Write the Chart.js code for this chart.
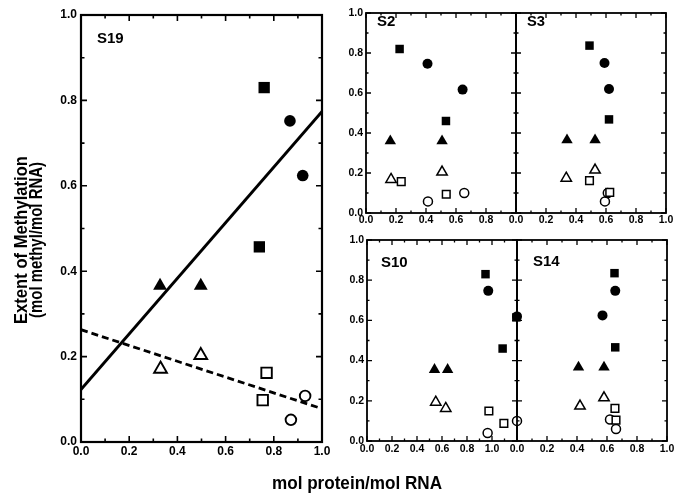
<!DOCTYPE html>
<html>
<head>
<meta charset="utf-8">
<script src="https://cdn.jsdelivr.net/npm/chart.js@4.4.0/dist/chart.umd.min.js"></script>
<style>
  html, body { margin: 0; padding: 0; background: #fff; width: 675px; height: 496px; overflow: hidden; }
  canvas { position: absolute; left: 0; top: 0; }
</style>
</head>
<body>
<canvas id="s19" width="720" height="520"></canvas>
<canvas id="s2" width="720" height="520"></canvas>
<canvas id="s3" width="720" height="520"></canvas>
<canvas id="s10" width="720" height="520"></canvas>
<canvas id="s14" width="720" height="520"></canvas>
<script>
// Five methylation panels. Each point is [mol protein/mol RNA, extent].
// S19
const s19FilledSquares   = [[0.76, 0.83], [0.74, 0.457]];
const s19FilledCircles   = [[0.867, 0.752], [0.92, 0.624]];
const s19FilledTriangles = [[0.328, 0.366], [0.497, 0.366]];
const s19OpenTriangles   = [[0.33, 0.171], [0.497, 0.203]];
const s19OpenSquares     = [[0.77, 0.162], [0.754, 0.098]];
const s19OpenCircles     = [[0.871, 0.052], [0.93, 0.108]];
const s19FitSolid        = [[0, 0.123], [1, 0.774]];
const s19FitDashed       = [[0, 0.263], [1, 0.078]];
// S2
const s2FilledSquares   = [[0.224, 0.82], [0.533, 0.46]];
const s2FilledCircles   = [[0.41, 0.746], [0.644, 0.617]];
const s2FilledTriangles = [[0.162, 0.36], [0.507, 0.36]];
const s2OpenTriangles   = [[0.167, 0.168], [0.507, 0.205]];
const s2OpenSquares     = [[0.235, 0.157], [0.535, 0.094]];
const s2OpenCircles     = [[0.413, 0.058], [0.655, 0.1]];
// S3
const s3FilledSquares   = [[0.49, 0.837], [0.62, 0.468]];
const s3FilledCircles   = [[0.59, 0.75], [0.62, 0.62]];
const s3FilledTriangles = [[0.34, 0.365], [0.527, 0.365]];
const s3OpenTriangles   = [[0.335, 0.174], [0.527, 0.215]];
const s3OpenSquares     = [[0.49, 0.162], [0.625, 0.103]];
const s3OpenCircles     = [[0.593, 0.058], [0.612, 0.1]];
// S10 (its x axis runs to 1.2)
const s10FilledSquares   = [[0.948, 0.83], [1.085, 0.46], [1.195, 0.615]];
const s10FilledCircles   = [[0.97, 0.747], [1.2, 0.62]];
const s10FilledTriangles = [[0.54, 0.355], [0.645, 0.355]];
const s10OpenTriangles   = [[0.55, 0.193], [0.63, 0.162]];
const s10OpenSquares     = [[0.975, 0.149], [1.095, 0.088]];
const s10OpenCircles     = [[0.965, 0.04], [1.2, 0.1]];
// S14
const s14FilledSquares   = [[0.65, 0.835], [0.655, 0.466]];
const s14FilledCircles   = [[0.655, 0.747], [0.57, 0.625]];
const s14FilledTriangles = [[0.41, 0.367], [0.58, 0.367]];
const s14OpenTriangles   = [[0.42, 0.174], [0.58, 0.215]];
const s14OpenSquares     = [[0.653, 0.162], [0.66, 0.104]];
const s14OpenCircles     = [[0.62, 0.107], [0.66, 0.06]];

// tick labels
const yLabels      = ['0.0', '0.2', '0.4', '0.6', '0.8', '1.0'];
const xLabels      = ['0.0', '0.2', '0.4', '0.6', '0.8', '1.0'];
const xLabelsShort = ['0.0', '0.2', '0.4', '0.6', '0.8'];
const noLabels     = [];

const FONT = "'Liberation Sans', Arial, sans-serif";
const W = 720, H = 520;

const pts = arr => arr.map(([x, y]) => ({ x, y }));

// frame + inward tick marks on all four sides, drawn under the markers
const framePlugin = {
  id: 'panelFrame',
  beforeDatasetsDraw(chart, args, o) {
    const { ctx, chartArea: a, scales: { x, y } } = chart;
    const major = v => Math.round(v * 10) % 2 === 0;
    ctx.save();
    ctx.strokeStyle = '#000';
    ctx.lineWidth = o.tickWidth;
    ctx.beginPath();
    x.ticks.forEach(t => {
      const p = x.getPixelForValue(t.value);
      const len = major(t.value) ? o.major : o.minor;
      ctx.moveTo(p, a.bottom); ctx.lineTo(p, a.bottom - len);
      ctx.moveTo(p, a.top); ctx.lineTo(p, a.top + len);
    });
    y.ticks.forEach(t => {
      const p = y.getPixelForValue(t.value);
      const len = major(t.value) ? o.major : o.minor;
      ctx.moveTo(a.left, p); ctx.lineTo(a.left + len, p);
      ctx.moveTo(a.right, p); ctx.lineTo(a.right - len, p);
    });
    ctx.stroke();
    ctx.lineWidth = o.frameWidth;
    ctx.strokeRect(a.left, a.top, a.right - a.left, a.bottom - a.top);
    ctx.restore();
  }
};

// free text (panel names, axis titles)
const textPlugin = {
  id: 'panelText',
  afterDraw(chart, args, o) {
    const ctx = chart.ctx;
    (o.items || []).forEach(it => {
      ctx.save();
      ctx.fillStyle = '#000';
      ctx.font = `bold ${it.size}px ${FONT}`;
      ctx.textAlign = it.align || 'left';
      ctx.textBaseline = 'middle';
      ctx.translate(it.x, it.y);
      if (it.rotate) ctx.rotate(it.rotate);
      ctx.fillText(it.text, 0, 0, it.maxWidth);
      ctx.restore();
    });
  }
};

function markers(set, s) {
  const filled = { backgroundColor: '#000', borderColor: '#000', borderWidth: 0 };
  const open = { backgroundColor: '#fff', borderColor: '#000', borderWidth: s.stroke };
  return [
    { data: pts(set.filledSquares), pointStyle: 'rect', pointRadius: s.sq, ...filled },
    { data: pts(set.filledCircles), pointStyle: 'circle', pointRadius: s.ci, ...filled },
    { data: pts(set.filledTriangles), pointStyle: 'triangle', pointRadius: s.tri, ...filled },
    { data: pts(set.openTriangles), pointStyle: 'triangle', pointRadius: s.tri - 0.6, ...open },
    { data: pts(set.openSquares), pointStyle: 'rect', pointRadius: s.sq - 0.6, ...open },
    { data: pts(set.openCircles), pointStyle: 'circle', pointRadius: s.ci - 0.5, ...open }
  ].map(d => ({ ...d, clip: false, order: 1, pointHoverRadius: d.pointRadius }));
}

function labelCb(list) {
  return v => {
    const s = Number(v).toFixed(1);
    return list.includes(s) ? s : '';
  };
}

function makePanel(id, p) {
  const g = p.area;
  const datasets = markers(p.set, p.sizes).concat(p.lines || []);
  return new Chart(document.getElementById(id), {
    type: 'scatter',
    data: { datasets },
    options: {
      responsive: false,
      animation: false,
      events: [],
      layout: {
        autoPadding: false,
        padding: { left: g.left - p.yw, right: W - g.right, top: g.top, bottom: H - g.bottom - p.xh }
      },
      plugins: {
        legend: { display: false },
        tooltip: { enabled: false },
        panelFrame: p.frame,
        panelText: { items: p.texts }
      },
      scales: {
        x: {
          type: 'linear', min: 0, max: p.xMax,
          grid: { display: false, drawTicks: false }, border: { display: false },
          ticks: { stepSize: 0.1, autoSkip: false, maxRotation: 0, padding: p.xPad, color: '#000',
                   font: { family: FONT, size: p.fontSize, weight: 'bold' }, callback: labelCb(p.xLabels) },
          afterFit: s => { s.height = p.xh; }
        },
        y: {
          type: 'linear', min: 0, max: 1,
          grid: { display: false, drawTicks: false }, border: { display: false },
          ticks: { stepSize: 0.1, autoSkip: false, padding: p.yPad, color: '#000',
                   font: { family: FONT, size: p.fontSize, weight: 'bold' }, callback: labelCb(p.yLabels) },
          afterFit: s => { s.width = p.yw; }
        }
      }
    },
    plugins: [framePlugin, textPlugin]
  });
}

const bigSizes = { sq: 8, ci: 5.8, tri: 8, stroke: 1.9 };
const smallSizes = { sq: 6, ci: 5, tri: 6.6, stroke: 1.5 };
const bigFrame = { tickWidth: 1.6, frameWidth: 2.2, major: 6, minor: 3.5 };
const smallFrame = { tickWidth: 1.3, frameWidth: 1.8, major: 5, minor: 2.5 };

makePanel('s19', {
  area: { left: 81, right: 322, top: 15, bottom: 442 },
  xMax: 1, yw: 30, xh: 20, xPad: 2, yPad: 4, fontSize: 12,
  xLabels: xLabels, yLabels: yLabels, sizes: bigSizes, frame: bigFrame,
  set: { filledSquares: s19FilledSquares, filledCircles: s19FilledCircles, filledTriangles: s19FilledTriangles,
         openTriangles: s19OpenTriangles, openSquares: s19OpenSquares, openCircles: s19OpenCircles },
  lines: [
    { data: pts(s19FitSolid), showLine: true, pointRadius: 0, borderColor: '#000', borderWidth: 2.8, order: 2 },
    { data: pts(s19FitDashed), showLine: true, pointRadius: 0, borderColor: '#000', borderWidth: 2.8, borderDash: [7, 4], order: 2 }
  ],
  texts: [
    { text: 'S19', x: 97, y: 39, size: 15, maxWidth: 27 },
    { text: 'Extent of Methylation', x: 22, y: 240, size: 18, maxWidth: 168, align: 'center', rotate: -Math.PI / 2 },
    { text: '(mol methyl/mol RNA)', x: 37.5, y: 240, size: 18, maxWidth: 156, align: 'center', rotate: -Math.PI / 2 },
    { text: 'mol protein/mol RNA', x: 357, y: 484, size: 18, maxWidth: 170, align: 'center' }
  ]
});

makePanel('s2', {
  area: { left: 366, right: 516, top: 13, bottom: 213 },
  xMax: 1, yw: 30, xh: 14, xPad: 1, yPad: 3, fontSize: 10.5,
  xLabels: xLabelsShort, yLabels: yLabels, sizes: smallSizes, frame: smallFrame,
  set: { filledSquares: s2FilledSquares, filledCircles: s2FilledCircles, filledTriangles: s2FilledTriangles,
         openTriangles: s2OpenTriangles, openSquares: s2OpenSquares, openCircles: s2OpenCircles },
  texts: [{ text: 'S2', x: 377, y: 22, size: 15, maxWidth: 19 }]
});

makePanel('s3', {
  area: { left: 516, right: 666, top: 13, bottom: 213 },
  xMax: 1, yw: 0, xh: 14, xPad: 1, yPad: 3, fontSize: 10.5,
  xLabels: xLabels, yLabels: noLabels, sizes: smallSizes, frame: smallFrame,
  set: { filledSquares: s3FilledSquares, filledCircles: s3FilledCircles, filledTriangles: s3FilledTriangles,
         openTriangles: s3OpenTriangles, openSquares: s3OpenSquares, openCircles: s3OpenCircles },
  texts: [{ text: 'S3', x: 527, y: 22, size: 15, maxWidth: 18 }]
});

makePanel('s10', {
  area: { left: 367, right: 517, top: 240, bottom: 441 },
  xMax: 1.2, yw: 30, xh: 14, xPad: 2, yPad: 3, fontSize: 10.5,
  xLabels: xLabels, yLabels: yLabels, sizes: smallSizes, frame: smallFrame,
  set: { filledSquares: s10FilledSquares, filledCircles: s10FilledCircles, filledTriangles: s10FilledTriangles,
         openTriangles: s10OpenTriangles, openSquares: s10OpenSquares, openCircles: s10OpenCircles },
  texts: [{ text: 'S10', x: 381, y: 263, size: 15, maxWidth: 28 }]
});

makePanel('s14', {
  area: { left: 517, right: 667, top: 240, bottom: 441 },
  xMax: 1, yw: 0, xh: 14, xPad: 2, yPad: 3, fontSize: 10.5,
  xLabels: xLabels, yLabels: noLabels, sizes: smallSizes, frame: smallFrame,
  set: { filledSquares: s14FilledSquares, filledCircles: s14FilledCircles, filledTriangles: s14FilledTriangles,
         openTriangles: s14OpenTriangles, openSquares: s14OpenSquares, openCircles: s14OpenCircles },
  texts: [{ text: 'S14', x: 533, y: 262, size: 15, maxWidth: 28 }]
});
</script>
</body>
</html>
